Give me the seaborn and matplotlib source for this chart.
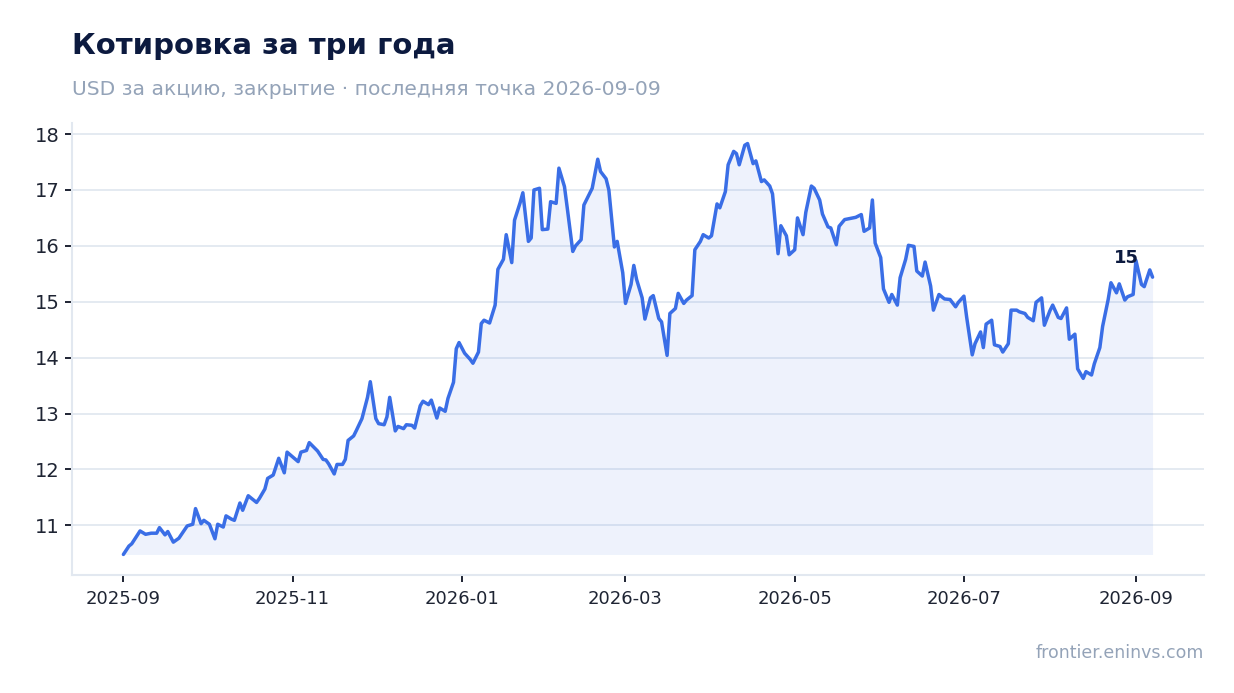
import pandas as pd
import matplotlib
matplotlib.use("Agg")
import matplotlib.pyplot as plt
import matplotlib.dates as mdates
from matplotlib.ticker import MultipleLocator
import seaborn as sns

# closing prices; day offsets counted from the start date
start_date = "2025-09-01"
day_offsets = [
    0, 2, 3, 6, 8, 10, 12, 13, 15, 16, 18, 20, 23, 25, 26, 28, 29, 31, 33, 34,
    36, 37, 39, 40, 42, 43, 45, 48, 49, 51, 52, 54, 56, 58, 59, 63, 64, 66, 67, 70,
    72, 73, 74, 76, 77, 79, 80, 81, 83, 84, 86, 88, 89, 91, 92, 94, 95, 96, 98, 99,
    101, 102, 104, 105, 107, 108, 110, 111, 113, 114, 116, 117, 119, 120, 121, 123, 125, 126, 128, 129,
    130, 132, 134, 135, 137, 138, 140, 141, 143, 144, 146, 147, 148, 150, 151, 153, 154, 156, 157, 159,
    160, 162, 163, 165, 166, 168, 169, 171, 172, 174, 175, 177, 178, 180, 181, 183, 184, 185, 187, 188,
    190, 191, 193, 194, 196, 197, 199, 200, 202, 203, 205, 206, 208, 209, 211, 212, 214, 215, 217, 218,
    220, 221, 222, 224, 225, 227, 228, 230, 231, 233, 234, 236, 237, 239, 240, 242, 243, 245, 246, 248,
    249, 251, 252, 254, 255, 257, 258, 260, 261, 263, 264, 266, 267, 269, 270, 271, 273, 274, 276, 277,
    279, 280, 282, 283, 285, 286, 288, 289, 291, 292, 294, 296, 298, 300, 301, 303, 304, 306, 307, 309,
    310, 311, 313, 314, 316, 317, 319, 320, 322, 323, 325, 326, 328, 329, 331, 332, 334, 335, 337, 338,
    340, 341, 343, 344, 346, 347, 349, 350, 352, 353, 355, 356, 358, 359, 361, 362, 364, 365, 367, 368,
    370, 371,
]
close = [
    10.48, 10.63, 10.67, 10.90, 10.84, 10.86, 10.86, 10.96, 10.83, 10.89, 10.70, 10.77, 10.99, 11.02, 11.30, 11.03, 11.09, 11.02, 10.76, 11.02,
    10.97, 11.17, 11.11, 11.09, 11.40, 11.27, 11.53, 11.41, 11.48, 11.65, 11.84, 11.90, 12.20, 11.94, 12.31, 12.14, 12.31, 12.34, 12.48, 12.33,
    12.18, 12.17, 12.10, 11.92, 12.09, 12.09, 12.18, 12.52, 12.60, 12.70, 12.91, 13.29, 13.57, 12.91, 12.82, 12.80, 12.94, 13.29, 12.69, 12.77,
    12.73, 12.80, 12.79, 12.74, 13.14, 13.22, 13.16, 13.24, 12.92, 13.10, 13.04, 13.27, 13.56, 14.16, 14.27, 14.08, 13.97, 13.90, 14.10, 14.61,
    14.67, 14.62, 14.94, 15.58, 15.76, 16.20, 15.70, 16.46, 16.77, 16.95, 16.08, 16.14, 17.00, 17.03, 16.29, 16.30, 16.79, 16.76, 17.39, 17.06,
    16.68, 15.90, 16.00, 16.11, 16.73, 16.93, 17.03, 17.55, 17.33, 17.20, 17.00, 15.98, 16.08, 15.52, 14.97, 15.31, 15.65, 15.40, 15.07, 14.69,
    15.07, 15.11, 14.70, 14.64, 14.04, 14.79, 14.88, 15.15, 14.97, 15.03, 15.11, 15.93, 16.08, 16.20, 16.14, 16.18, 16.75, 16.68, 16.97, 17.45,
    17.69, 17.65, 17.45, 17.80, 17.83, 17.47, 17.52, 17.15, 17.18, 17.07, 16.93, 15.86, 16.36, 16.18, 15.84, 15.93, 16.50, 16.20, 16.60, 17.07,
    17.03, 16.82, 16.57, 16.34, 16.32, 16.02, 16.35, 16.47, 16.48, 16.50, 16.51, 16.56, 16.26, 16.32, 16.82, 16.05, 15.79, 15.23, 14.99, 15.13,
    14.94, 15.43, 15.76, 16.01, 15.99, 15.55, 15.46, 15.71, 15.28, 14.85, 15.13, 15.05, 15.04, 14.91, 14.99, 15.10, 14.72, 14.05, 14.25, 14.46,
    14.18, 14.60, 14.67, 14.23, 14.20, 14.10, 14.25, 14.85, 14.85, 14.82, 14.79, 14.72, 14.66, 14.99, 15.07, 14.58, 14.84, 14.94, 14.72, 14.70,
    14.89, 14.33, 14.42, 13.80, 13.63, 13.75, 13.69, 13.89, 14.18, 14.56, 15.04, 15.34, 15.16, 15.32, 15.03, 15.09, 15.13, 15.74, 15.31, 15.27,
    15.57, 15.44,
]

title = "Котировка за три года"
subtitle = "USD за акцию, закрытие · последняя точка 2026-09-09"
source = "frontier.eninvs.com"

line_color = "#3a6ee6"
navy = "#0c1a3f"
muted = "#94a3b8"
grid_color = "#e2e8f0"

df = pd.DataFrame({
    "date": pd.Timestamp(start_date) + pd.to_timedelta(day_offsets, unit="D"),
    "close": close,
})

sns.set_theme(style="white")
plt.rcParams["font.family"] = ["DejaVu Sans"]

fig = plt.figure(figsize=(12.34, 6.93), dpi=100)
ax = fig.add_axes([0.0583, 0.1703, 0.9174, 0.6522])

ax.fill_between(df["date"], df["close"], df["close"].min(), color=line_color, alpha=0.085, lw=0)
sns.lineplot(data=df, x="date", y="close", ax=ax, color=line_color, linewidth=2.5)

ax.set_xlabel("")
ax.set_ylabel("")
ax.xaxis.set_major_locator(mdates.MonthLocator(bymonth=[1, 3, 5, 7, 9, 11]))
ax.xaxis.set_major_formatter(mdates.DateFormatter("%Y-%m"))
ax.yaxis.set_major_locator(MultipleLocator(1))

ax.grid(axis="y", color=grid_color, linewidth=1.3)
ax.set_axisbelow(True)
for side in ["top", "right"]:
    ax.spines[side].set_visible(False)
for side in ["left", "bottom"]:
    ax.spines[side].set_color(grid_color)
    ax.spines[side].set_linewidth(1.5)

ax.tick_params(axis="x", colors="#1e2433", labelsize=13, length=5, width=1.4, pad=6)
ax.tick_params(axis="y", colors="#1e2433", labelsize=14, length=5, width=1.4, pad=4)
ax.tick_params(axis="both", which="both", bottom=True, left=True)

last = df.iloc[-1]
ax.annotate(f"{last['close']:.0f}", xy=(last["date"], last["close"]),
            xytext=(-19, 10.5), textcoords="offset points",
            ha="center", va="baseline", fontsize=13, fontweight="bold", color=navy)

fig.text(0.0583, 0.922, title, fontsize=21, fontweight="bold", color=navy, va="baseline")
fig.text(0.0583, 0.863, subtitle, fontsize=14.6, color=muted, va="baseline")
fig.text(0.9757, 0.051, source, fontsize=12.5, color=muted, ha="right", va="baseline")

fig.savefig("out.png", dpi=100)
